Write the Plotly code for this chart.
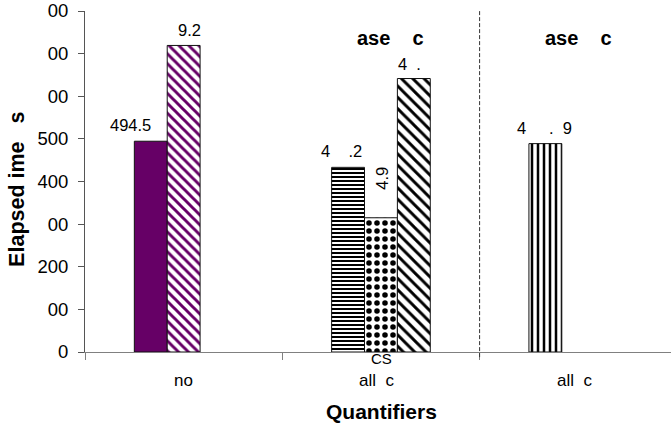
import plotly.graph_objects as go

# ---- data ----
categories = ["no", "all\u00a0\u00a0c", "all\u00a0\u00a0c"]
bar_category = [0, 0, 1, 1, 1, 2]
bar_slot = [0, 1, 0, 1, 2, 0]
values = [494.5, 719.2, 433.2, 314.9, 641.6, 488.9]
value_labels = ["494.5", "9.2", "4\u00a0\u00a0\u00a0\u00a0.2", "4.9", "4\u00a0\u00a0.", "4\u00a0\u00a0\u00a0\u00a0\u00a0.\u00a0\u00a09"]
y_tick_values = [0, 100, 200, 300, 400, 500, 600, 700, 800]
y_tick_labels = ["0", "00", "200", "00", "400", "500", "00", "00", "00"]
group_headers = ["", "ase\u00a0\u00a0\u00a0\u00a0c", "ase\u00a0\u00a0\u00a0\u00a0c"]
sub_label = "CS"

# ---- styles ----
FONT = "Liberation Sans, Arial, sans-serif"
PURPLE = "#660066"
patterns = [
    dict(shape=""),
    dict(shape="\\", fgcolor=PURPLE, bgcolor="white", size=7, solidity=0.42, fgopacity=1),
    dict(shape="-", fgcolor="black", bgcolor="white", size=4, solidity=0.5, fgopacity=1),
    dict(shape=".", fgcolor="black", bgcolor="white", size=8, solidity=0.38, fgopacity=1),
    dict(shape="\\", fgcolor="black", bgcolor="white", size=8, solidity=0.36, fgopacity=1),
    dict(shape="|", fgcolor="black", bgcolor="white", size=6, solidity=0.42, fgopacity=1),
]
fill_colors = [PURPLE, "white", "white", "white", "white", "white"]
# label placement (pixel shifts from bar top-centre) and angles
label_xshift = [-20, 5.5, -7, 1, -4, -1]
label_yshift = [16, 15, 16, 40, 15, 16]
label_angle = [0, 0, 0, -90, 0, 0]
cat_label_xshift = [0, -4.5, -3.5]
header_xshift = [0, 10, 0]

BAR_W = 1 / 6

fig = go.Figure()
for i, v in enumerate(values):
    c = bar_category[i] + 0.5
    fig.add_trace(go.Bar(
        x=[c], y=[v], width=[BAR_W], offset=[-0.25 + bar_slot[i] * BAR_W],
        marker=dict(color=fill_colors[i], pattern=patterns[i],
                    line=dict(color="#111111", width=1)),
        showlegend=False, hoverinfo="skip",
    ))
    fig.add_annotation(
        x=c - 0.25 + (bar_slot[i] + 0.5) * BAR_W, y=v, xref="x", yref="y",
        text=value_labels[i], showarrow=False, textangle=label_angle[i],
        xanchor="center", yanchor="middle",
        xshift=label_xshift[i], yshift=label_yshift[i],
        font=dict(family=FONT, size=16.5, color="black"),
    )

PLOT_H = 341.4
def py(p):
    return (352 - p) / PLOT_H

for k, name in enumerate(categories):
    fig.add_annotation(x=k + 0.5, y=py(381), xref="x", yref="paper", text=name,
                       showarrow=False, xanchor="center", yanchor="middle",
                       xshift=cat_label_xshift[k],
                       font=dict(family=FONT, size=17, color="black"))
    if group_headers[k]:
        fig.add_annotation(x=k + 0.5, y=py(38), xref="x", yref="paper",
                           text="<b>" + group_headers[k] + "</b>",
                           showarrow=False, xanchor="center", yanchor="middle",
                           xshift=header_xshift[k],
                           font=dict(family=FONT, size=20, color="black"))

# "CS" under the diamond bar
diamond = 3
fig.add_annotation(x=bar_category[diamond] + 0.5 - 0.25 + (bar_slot[diamond] + 0.5) * BAR_W,
                   y=py(359), xref="x", yref="paper", text=sub_label, showarrow=False,
                   xanchor="center", yanchor="middle", xshift=1,
                   font=dict(family=FONT, size=15, color="black"))

# axis titles
fig.add_annotation(x=(381 - 85) / 586, y=py(412), xref="paper", yref="paper",
                   text="<b>Quantifiers</b>", showarrow=False,
                   xanchor="center", yanchor="middle",
                   font=dict(family=FONT, size=21, color="black"))
fig.add_annotation(x=(16.7 - 85) / 586, y=py(189), xref="paper", yref="paper",
                   text="<b>Elapsed\u00a0ime\u00a0\u00a0\u00a0s</b>", showarrow=False,
                   textangle=-90, xanchor="center", yanchor="middle",
                   font=dict(family=FONT, size=21.5, color="black"))

# dashed separator
fig.add_shape(type="line", x0=2, x1=2, xref="x", y0=-0.015, y1=1, yref="paper",
              line=dict(color="#333333", width=1, dash="4px,2px"))

fig.update_layout(
    width=671, height=431,
    margin=dict(l=85, r=0, t=10.6, b=79),
    paper_bgcolor="white", plot_bgcolor="white",
    barmode="overlay",
    font=dict(family=FONT, color="black"),
    xaxis=dict(range=[0, 586 / 197.3], tickvals=[0, 1, 2], ticktext=["", "", ""],
               ticks="outside", ticklen=7, tickcolor="#808080",
               showline=True, linecolor="#808080", linewidth=1,
               showgrid=False, zeroline=False, fixedrange=True),
    yaxis=dict(range=[0, 800], tickvals=y_tick_values, ticktext=y_tick_labels,
               ticks="outside", ticklen=6, tickcolor="#555555",
               showline=True, linecolor="#555555", linewidth=1,
               showgrid=False, zeroline=False,
               tickfont=dict(family=FONT, size=18.5, color="black"),
               ticklabelstandoff=6),
)

fig.write_html("out.html")
